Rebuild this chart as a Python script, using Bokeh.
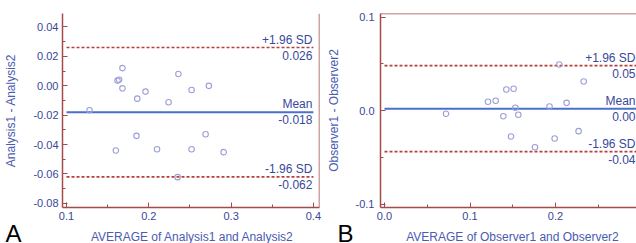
from bokeh.plotting import figure
from bokeh.layouts import row, column
from bokeh.models import FixedTicker, PrintfTickFormatter, Span, Range1d
from bokeh.core.properties import value
from bokeh.embed import file_html
from bokeh.resources import INLINE

# ---------------- data ----------------
# Panel A: Analysis1 vs Analysis2
a_avg = [0.128, 0.162, 0.164, 0.168, 0.168, 0.186, 0.196, 0.224, 0.236, 0.252,
         0.273, 0.185, 0.160, 0.210, 0.252, 0.269, 0.291, 0.235]
a_diff = [-0.0167, 0.0035, 0.0041, 0.0120, -0.0018, -0.0088, -0.0040, -0.0112, 0.0080, -0.0029,
          -0.0001, -0.0341, -0.0441, -0.0432, -0.0432, -0.0330, -0.0452, -0.0622]
a_lines = [0.026, -0.018, -0.062]
a_line_names = ["+1.96 SD", "Mean", "-1.96 SD"]
a_line_values = ["0.026", "-0.018", "-0.062"]
a_xticks = [0.1, 0.2, 0.3, 0.4]
a_xminor = [0.15, 0.25, 0.35]
a_yticks = [-0.08, -0.06, -0.04, -0.02, 0.0, 0.02, 0.04]
a_yminor = [-0.07, -0.05, -0.03, -0.01, 0.01, 0.03]
a_xtitle = "AVERAGE of Analysis1 and Analysis2"
a_ytitle = "Analysis1 - Analysis2"

# Panel B: Observer1 vs Observer2
b_avg = [0.072, 0.121, 0.130, 0.1425, 0.151, 0.139, 0.153, 0.1565, 0.148, 0.176,
         0.193, 0.199, 0.2045, 0.213, 0.227, 0.233]
b_diff = [-0.0035, 0.0093, 0.0104, 0.0225, 0.0232, -0.0061, 0.0029, -0.0046, -0.0278, -0.0393,
          0.0043, -0.0299, 0.0492, 0.0082, -0.0221, 0.0310]
b_lines = [0.048, 0.002, -0.044]
b_line_names = ["+1.96 SD", "Mean", "-1.96 SD"]
b_line_values = ["0.05", "0.00", "-0.04"]
b_xticks = [0.0, 0.1, 0.2, 0.3]
b_xminor = [0.05, 0.15, 0.25]
b_yticks = [-0.1, 0.0, 0.1]
b_yminor = [-0.05, 0.05]
b_xtitle = "AVERAGE of Observer1 and Observer2"
b_ytitle = "Observer1 - Observer2"

panel_letters = ["A", "B"]

# ---------------- style ----------------
FONT = "Liberation Sans"
FRAME = "#a34a4a"
TICKLBL = "#3a4699"
TITLE = "#4a5bb0"
ANNOT = "#38489c"
MEAN = "#4a6fcf"
SD = "#b5403a"
PT = "#9c9fd6"

MAIN_H = 224
STRIP_H = 243 - MAIN_H


def make_panel(width, xr, yr, borders, xt, xm, yt, ym, xfmt, yfmt,
               ytitle, avg, diff, lines, names, vals, lbl_standoff):
    p = figure(width=width, height=MAIN_H, x_range=Range1d(*xr), y_range=Range1d(*yr),
               output_backend="svg", toolbar_location=None,
               min_border_left=borders[0], min_border_right=borders[1],
               min_border_top=borders[2], min_border_bottom=borders[3])
    p.outline_line_color = None
    p.grid.visible = False
    p.background_fill_color = "white"
    p.border_fill_color = "white"

    p.xaxis.ticker = FixedTicker(ticks=xt, minor_ticks=xm)
    p.yaxis.ticker = FixedTicker(ticks=yt, minor_ticks=ym)
    p.xaxis.formatter = PrintfTickFormatter(format=xfmt)
    p.yaxis.formatter = PrintfTickFormatter(format=yfmt)
    for ax in (p.xaxis[0], p.yaxis[0]):
        ax.axis_line_color = FRAME
        ax.axis_line_width = 1.5
        ax.major_tick_line_color = FRAME
        ax.minor_tick_line_color = FRAME
        ax.major_tick_in = 5
        ax.major_tick_out = 0
        ax.minor_tick_in = 3
        ax.minor_tick_out = 0
        ax.major_label_text_font = FONT
        ax.major_label_text_font_size = "11px"
        ax.major_label_text_color = TICKLBL
        ax.axis_label_text_font = FONT
        ax.axis_label_text_font_size = "12px"
        ax.axis_label_text_font_style = "normal"
        ax.axis_label_text_color = TITLE
    p.yaxis.axis_label = ytitle
    p.xaxis.major_label_standoff = 4
    p.yaxis.major_label_standoff = lbl_standoff
    p.yaxis.axis_label_standoff = 12

    x0, x1 = xt[0], xt[-1]
    # SD lines (dashed) and mean line
    p.segment(x0=[x0, x0], x1=[x1, x1], y0=[lines[0], lines[2]], y1=[lines[0], lines[2]],
              line_color=SD, line_width=1.6, line_dash="3 2")
    p.segment(x0=[x0], x1=[x1], y0=[lines[1]], y1=[lines[1]], line_color=MEAN, line_width=2)

    p.scatter(avg, diff, size=5.5, marker="circle", fill_color=None,
              line_color=PT, line_width=1.1)

    tx = min(x1, xr[1])
    p.text(x=[tx] * 3, y=lines, text=names, text_align="right", text_baseline="bottom",
           x_offset=-1, y_offset=-1, text_font=value(FONT), text_font_size="12px",
           text_color=ANNOT)
    p.text(x=[tx] * 3, y=lines, text=vals, text_align="right", text_baseline="top",
           x_offset=-1, y_offset=3, text_font=value(FONT), text_font_size="12px",
           text_color=ANNOT)
    return p


# panel A: frame x 62..319, y 0..207
a_xr = (0.1 - 4 / 823, 0.1 - 4 / 823 + 257 / 823)
a_yr = (-0.08 - 4.5 / 1568, -0.08 - 4.5 / 1568 + 207 / 1568)
pA = make_panel(322, a_xr, a_yr, (62, 3, 0, MAIN_H - 207), a_xticks, a_xminor, a_yticks, a_yminor,
                "%.1f", "%.2f", a_ytitle, a_avg, a_diff, a_lines, a_line_names, a_line_values, 4)
pA.add_layout(Span(location=a_xr[1], dimension="height", line_color=FRAME, line_width=1.5))

# panel B: frame x 380..636, y 13..207
b_xr = (-4 / 855, -4 / 855 + 256 / 855)
b_yr = (-0.1 - 3.5 / 935, 0.1 + 3.5 / 935)
pB = make_panel(314, b_xr, b_yr, (58, 0, 13, MAIN_H - 207), b_xticks, b_xminor, b_yticks, b_yminor,
                "%.1f", "%.1f", b_ytitle, b_avg, b_diff, b_lines, b_line_names, b_line_values, 6)
pB.add_layout(Span(location=b_yr[1], dimension="width", line_color=FRAME, line_width=1.5))

# bottom strip: panel letters and x-axis titles (layout positions in pixels)
strip = figure(width=636, height=STRIP_H, x_range=Range1d(0, 636), y_range=Range1d(0, STRIP_H),
               output_backend="svg", toolbar_location=None,
               min_border_left=0, min_border_right=0, min_border_top=0, min_border_bottom=0)
strip.axis.visible = False
strip.grid.visible = False
strip.outline_line_color = None
strip.text(x=[192, 512], y=[7, 7], text=[a_xtitle, b_xtitle], text_align="center",
           text_baseline="middle", text_font=value(FONT), text_font_size="12px",
           text_color=TITLE)
strip.text(x=[5, 337], y=[10.3, 10.3], text=panel_letters, text_align="left",
           text_baseline="middle", text_font=value(FONT), text_font_size="24px",
           text_color="black")

layout = column(row(pA, pB, spacing=0), strip, spacing=0)
open("out.html", "w").write(file_html(layout, INLINE))
